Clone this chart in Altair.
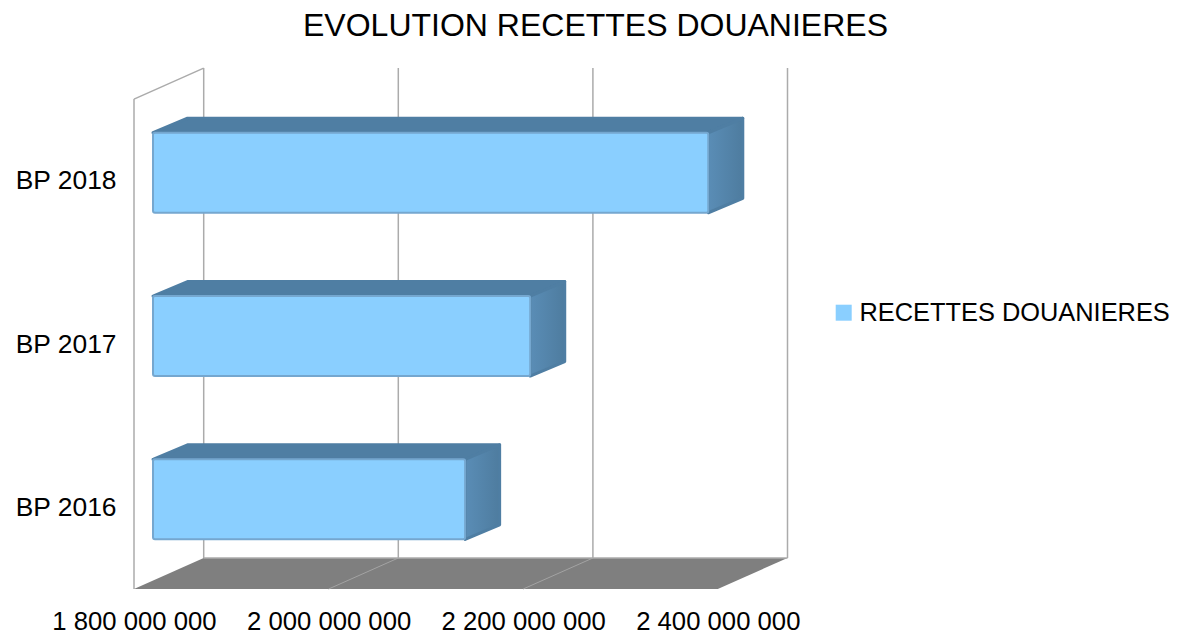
import altair as alt
import pandas as pd

TITLE = "EVOLUTION RECETTES DOUANIERES"
SERIES = "RECETTES DOUANIERES"
CATEGORIES = ["BP 2016", "BP 2017", "BP 2018"]
VALUES = [2120800000, 2187700000, 2370700000]
TICKS = [1800000000, 2000000000, 2200000000, 2400000000]

FONT = "Liberation Sans"
FRONT, EDGE, DARK, SIDE_L, SIDE_R = "#8acfff", "#75a7cf", "#4f7ea3", "#5a8db6", "#4e7c9f"
WALL, FLOOR, FLOOR_LINE = "#ababab", "#7f7f7f", "#a3a3a3"

# Projection of the pseudo-3D box: pixels of the plot converted to data units
PX_W, PX_H = 653, 521
X_PER_PX = 200000000 / 194.6
Y_PER_PX = 1 / 163.3
BASE = TICKS[0]


def ox(px):
    return px * X_PER_PX


def oy(px):
    return px * Y_PER_PX


WALL_DX, WALL_DY = ox(69.7), oy(31)
BAR_DX, BAR_DY = ox(19), oy(8)
DEEP_DX, DEEP_DY = ox(34.5), oy(14.5)
HALF = oy(40)
TOP_WALL = len(CATEGORIES)

x_scale = alt.Scale(domain=[BASE, BASE + ox(PX_W)], nice=False, zero=False)
y_scale = alt.Scale(domain=[0, oy(PX_H)], nice=False, zero=False)

label_list = "[" + ",".join(f"'{c}'" for c in CATEGORIES) + "]"
AX_X = alt.Axis(
    values=TICKS, domain=False, ticks=False, grid=False, labelFont=FONT, labelFontSize=25.7,
    labelColor="#000000", labelPadding=20.5, labelOverlap=False, labelFlush=False, labelBound=False,
    labelExpr="replace(format(datum.value, ','), /,/g, ' ')")
AX_Y = alt.Axis(
    values=[i + 0.5 for i in range(len(CATEGORIES))], domain=False, ticks=False, grid=False,
    labelFont=FONT, labelFontSize=26.4, labelColor="#000000", labelPadding=18, labelOverlap=False,
    labelBound=False, labelExpr=f"{label_list}[floor(datum.value)]")


def X(field="x"):
    return alt.X(f"{field}:Q", scale=x_scale, axis=AX_X, title=None)


def Y(field="y"):
    return alt.Y(f"{field}:Q", scale=y_scale, axis=AX_Y, title=None)


bars = pd.DataFrame({"category": CATEGORIES, "value": VALUES, "series": SERIES})
bars["c"] = [i + 0.5 for i in range(len(CATEGORIES))]
bars["x0"] = BASE + BAR_DX
bars["x1"] = bars["value"] + BAR_DX
bars["y0"] = bars["c"] + BAR_DY - HALF
bars["y1"] = bars["c"] + BAR_DY + HALF

top_rows, side_rows = [], []
for _, b in bars.iterrows():
    top_rows += [
        {"category": b["category"], "x": b["x0"], "y": b["y1"], "y2": b["y1"]},
        {"category": b["category"], "x": b["x0"] + DEEP_DX, "y": b["y1"] + DEEP_DY, "y2": b["y1"]},
        {"category": b["category"], "x": b["x1"], "y": b["y1"] + DEEP_DY, "y2": b["y1"]},
        {"category": b["category"], "x": b["x1"] + DEEP_DX, "y": b["y1"] + DEEP_DY, "y2": b["y1"] + DEEP_DY},
    ]
    side_rows += [
        {"category": b["category"], "x": b["x1"], "y": b["y1"], "y2": b["y0"]},
        {"category": b["category"], "x": b["x1"] + DEEP_DX, "y": b["y1"] + DEEP_DY, "y2": b["y0"] + DEEP_DY},
    ]
top = pd.DataFrame(top_rows)
side = pd.DataFrame(side_rows)

tick_df = pd.DataFrame({"t": TICKS})
tick_df["back"] = tick_df["t"] + WALL_DX
tick_df["y0"] = WALL_DY
tick_df["y1"] = oy(PX_H)

floor = pd.DataFrame({
    "x": [BASE, BASE + WALL_DX, TICKS[-1], TICKS[-1] + WALL_DX],
    "y": [0, WALL_DY, WALL_DY, WALL_DY],
    "y2": [0, 0, 0, WALL_DY],
})
floor_lines = pd.DataFrame(
    [{"t": t, "x": t, "y": 0} for t in TICKS[1:3]] + [{"t": t, "x": t + WALL_DX, "y": WALL_DY} for t in TICKS[1:3]]
)
left_edge = pd.DataFrame({"x": [BASE, BASE + WALL_DX], "y": [TOP_WALL, TOP_WALL + WALL_DY]})
left_wall = pd.DataFrame({"x": [BASE], "y": [0], "y2": [TOP_WALL]})
back_floor = pd.DataFrame({"x": [BASE + WALL_DX], "x2": [TICKS[-1] + WALL_DX], "y": [WALL_DY]})

wall_rules = alt.Chart(tick_df).mark_rule(color=WALL, strokeWidth=1.5).encode(x=X("back"), y=Y("y0"), y2="y1:Q")
left_rule = alt.Chart(left_wall).mark_rule(color=WALL, strokeWidth=1.5).encode(x=X(), y=Y(), y2="y2:Q")
left_diag = alt.Chart(left_edge).mark_line(color=WALL, strokeWidth=1.5).encode(x=X(), y=Y())
floor_area = alt.Chart(floor).mark_area(color=FLOOR, opacity=1).encode(x=X(), y=Y(), y2="y2:Q")
floor_grid = alt.Chart(floor_lines).mark_line(color=FLOOR_LINE, strokeWidth=1).encode(x=X(), y=Y(), detail="t:N")
floor_back = alt.Chart(back_floor).mark_rule(color=WALL, strokeWidth=1.5).encode(x=X(), x2="x2:Q", y=Y())

top_face = alt.Chart(top).mark_area(color=DARK, opacity=1, stroke=DARK, strokeWidth=3, strokeJoin="round").encode(
    x=X(), y=Y(), y2="y2:Q", detail="category:N")
side_face = alt.Chart(side).mark_area(
    opacity=1, stroke=DARK, strokeWidth=3, strokeJoin="round",
    color=alt.Gradient(gradient="linear", x1=0, x2=1, y1=0, y2=0,
                       stops=[alt.GradientStop(color=SIDE_L, offset=0), alt.GradientStop(color=SIDE_R, offset=1)]),
).encode(x=X(), y=Y(), y2="y2:Q", detail="category:N")
front_face = alt.Chart(bars).mark_rect(stroke=EDGE, strokeWidth=2, cornerRadius=2, opacity=1).encode(
    x=X("x0"), x2="x1:Q", y=Y("y0"), y2="y1:Q",
    color=alt.Color("series:N", scale=alt.Scale(domain=[SERIES], range=[FRONT]), title=None, legend=alt.Legend(
        orient="none", legendX=697, legendY=232, symbolType="square", symbolSize=256, symbolStrokeWidth=0,
        labelFont=FONT, labelFontSize=25.4, labelColor="#000000", labelLimit=400, labelOffset=3, symbolOpacity=1)),
)

chart = alt.layer(
    wall_rules, left_rule, left_diag, floor_area, floor_grid, floor_back, top_face, side_face, front_face
).properties(
    width=PX_W,
    height=PX_H,
    padding={"left": 126, "top": 60, "right": 383, "bottom": 47},
    autosize=alt.AutoSizeParams(type="none"),
    background="#ffffff",
    title=alt.TitleParams(TITLE, font=FONT, fontSize=32, fontWeight="normal", color="#000000",
                          anchor="middle", frame="group", dx=135, dy=10, offset=0, baseline="bottom"),
).configure_view(stroke=None)

chart.save("out.html", embed_options={"renderer": "svg", "actions": False})
